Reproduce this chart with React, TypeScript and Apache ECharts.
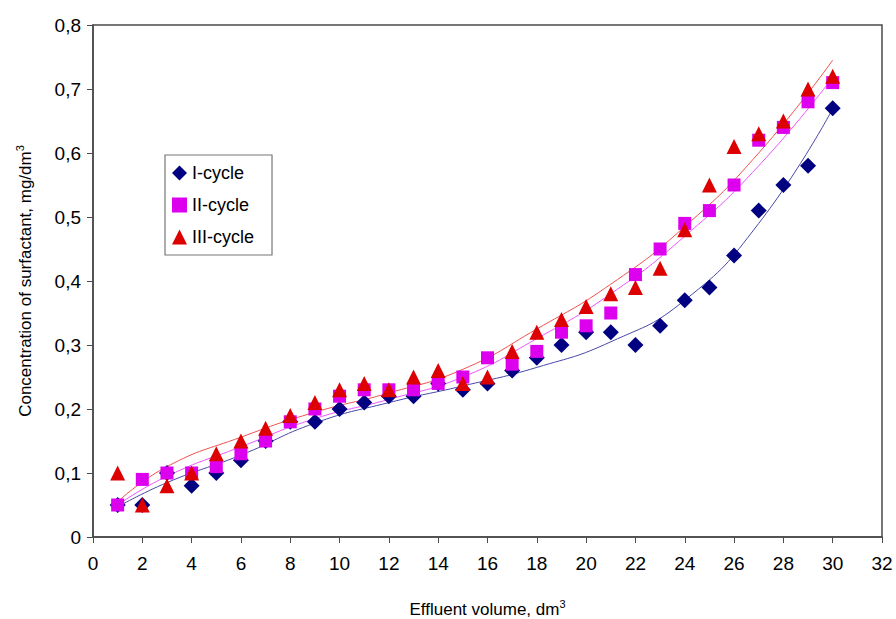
import React, { useEffect, useRef } from "react";
import * as echarts from "echarts";

const xValues = [1, 2, 3, 4, 5, 6, 7, 8, 9, 10, 11, 12, 13, 14, 15, 16, 17, 18, 19, 20, 21, 22, 23, 24, 25, 26, 27, 28, 29, 30];
const cycle1 = [0.05, 0.05, 0.10, 0.08, 0.10, 0.12, 0.15, 0.18, 0.18, 0.20, 0.21, 0.22, 0.22, 0.24, 0.23, 0.24, 0.26, 0.28, 0.30, 0.32, 0.32, 0.30, 0.33, 0.37, 0.39, 0.44, 0.51, 0.55, 0.58, 0.67];
const cycle2 = [0.05, 0.09, 0.10, 0.10, 0.11, 0.13, 0.15, 0.18, 0.20, 0.22, 0.23, 0.23, 0.23, 0.24, 0.25, 0.28, 0.27, 0.29, 0.32, 0.33, 0.35, 0.41, 0.45, 0.49, 0.51, 0.55, 0.62, 0.64, 0.68, 0.71];
const cycle3 = [0.10, 0.05, 0.08, 0.10, 0.13, 0.15, 0.17, 0.19, 0.21, 0.23, 0.24, 0.23, 0.25, 0.26, 0.24, 0.25, 0.29, 0.32, 0.34, 0.36, 0.38, 0.39, 0.42, 0.48, 0.55, 0.61, 0.63, 0.65, 0.70, 0.72];

const trendX = [1, 3, 6, 9, 12, 15, 18, 21, 24, 27, 30];
const trend1 = [0.047, 0.085, 0.128, 0.178, 0.21, 0.236, 0.265, 0.305, 0.37, 0.49, 0.669];
const trend2 = [0.05, 0.095, 0.141, 0.185, 0.215, 0.25, 0.31, 0.38, 0.47, 0.58, 0.718];
const trend3 = [0.055, 0.11, 0.156, 0.195, 0.225, 0.262, 0.325, 0.395, 0.485, 0.60, 0.745];

const seriesNames = ["I-cycle", "II-cycle", "III-cycle"];

const pair = (xs: number[], ys: number[]) => xs.map((x, i) => [x, ys[i]]);

export default function App() {
  const ref = useRef<HTMLDivElement>(null);
  useEffect(() => {
    if (!ref.current) return;
    const chart = echarts.init(ref.current, null, { renderer: "svg" });
    const font = "'Liberation Sans', Arial, sans-serif";
    const axisColor = "#4a4a4a";
    const supRich = { sup: { fontSize: 11, verticalAlign: "bottom", padding: [0, 0, 11, 0] } };
    chart.setOption({
      animation: false,
      backgroundColor: "#ffffff",
      textStyle: { fontFamily: font },
      grid: {
        left: 85,
        right: 14,
        top: 17,
        bottom: 82,
        show: true,
        borderColor: axisColor,
        borderWidth: 1.5,
        containLabel: false,
        outerBoundsMode: "none",
      },
      legend: {
        orient: "vertical",
        left: 157,
        top: 147,
        data: [
          { name: seriesNames[0], icon: "diamond" },
          { name: seriesNames[1], icon: "rect" },
          { name: seriesNames[2], icon: "triangle" },
        ],
        itemWidth: 15,
        itemHeight: 15,
        itemGap: 14,
        padding: [9, 18, 9, 7],
        borderColor: "#777",
        borderWidth: 1.2,
        textStyle: { fontSize: 18, color: "#000", fontFamily: font },
      },
      xAxis: {
        type: "value",
        min: 0,
        max: 32,
        interval: 2,
        name: "Effluent volume, dm{sup|3}",
        nameLocation: "middle",
        nameGap: 61,
        nameTextStyle: { fontSize: 17, color: "#000", rich: supRich },
        axisLine: { lineStyle: { color: axisColor, width: 1.5 } },
        axisTick: { inside: false, length: 6, lineStyle: { color: axisColor } },
        axisLabel: { fontSize: 19, color: "#000", margin: 17 },
        splitLine: { show: false },
      },
      yAxis: {
        type: "value",
        min: 0,
        max: 0.8,
        interval: 0.1,
        name: "Concentration of surfactant, mg/dm{sup|3}",
        nameLocation: "middle",
        nameGap: 57,
        nameTextStyle: { fontSize: 17, color: "#000", rich: supRich },
        axisLine: { lineStyle: { color: axisColor, width: 1.5 } },
        axisTick: { inside: false, length: 6, lineStyle: { color: axisColor } },
        axisLabel: {
          fontSize: 19,
          color: "#000",
          margin: 12,
          formatter: (v: number) => (v === 0 ? "0" : v.toFixed(1).replace(".", ",")),
        },
        splitLine: { show: false },
      },
      series: [
        {
          name: "trend1",
          type: "line",
          data: pair(trendX, trend1),
          smooth: 0.5,
          showSymbol: false,
          symbol: "none",
          lineStyle: { color: "#4848a8", width: 1 },
          z: 1,
          silent: true,
        },
        {
          name: "trend2",
          type: "line",
          data: pair(trendX, trend2),
          smooth: 0.5,
          showSymbol: false,
          symbol: "none",
          lineStyle: { color: "#ee55ff", width: 1 },
          z: 1,
          silent: true,
        },
        {
          name: "trend3",
          type: "line",
          data: pair(trendX, trend3),
          smooth: 0.5,
          showSymbol: false,
          symbol: "none",
          lineStyle: { color: "#f05050", width: 1 },
          z: 1,
          silent: true,
        },
        {
          name: seriesNames[0],
          type: "scatter",
          data: pair(xValues, cycle1),
          symbol: "diamond",
          symbolSize: 16,
          itemStyle: { color: "#000080", opacity: 1 },
          z: 2,
        },
        {
          name: seriesNames[1],
          type: "scatter",
          data: pair(xValues, cycle2),
          symbol: "rect",
          symbolSize: 13,
          itemStyle: { color: "#dd00ee", opacity: 1 },
          z: 3,
        },
        {
          name: seriesNames[2],
          type: "scatter",
          data: pair(xValues, cycle3),
          symbol: "triangle",
          symbolSize: 15,
          itemStyle: { color: "#dd0000", opacity: 1 },
          z: 4,
        },
      ],
    });
    return () => chart.dispose();
  }, []);
  return (
    <div
      ref={ref}
      style={{ position: "absolute", left: 8, top: 8, width: 888, height: 611 }}
    />
  );
}
